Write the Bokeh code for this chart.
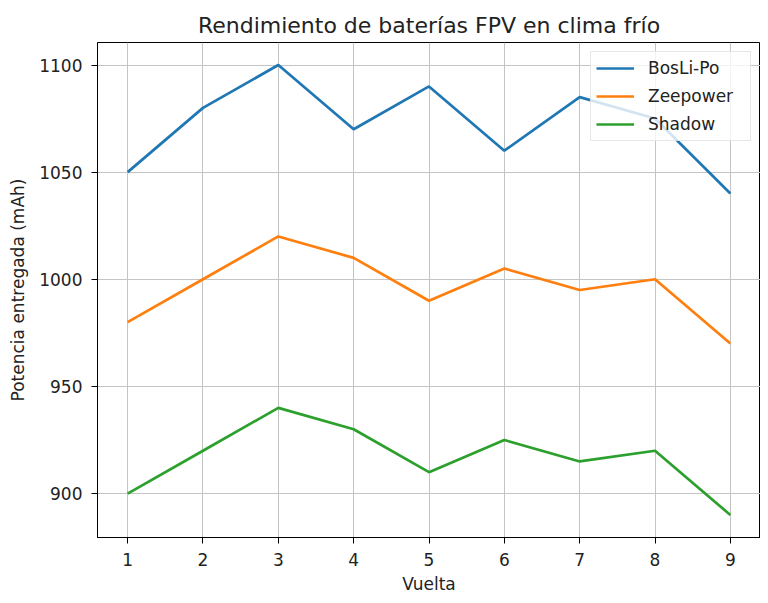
from bokeh.plotting import figure
from bokeh.models import Range1d, FixedTicker, Legend, LegendItem
from bokeh.embed import file_html
from bokeh.resources import INLINE

vueltas = [1, 2, 3, 4, 5, 6, 7, 8, 9]
boslipo = [1050, 1080, 1100, 1070, 1090, 1060, 1085, 1075, 1040]
zeepower = [980, 1000, 1020, 1010, 990, 1005, 995, 1000, 970]
shadow = [900, 920, 940, 930, 910, 925, 915, 920, 890]
names = ["BosLi-Po", "Zeepower", "Shadow"]
colors = ["#1f77b4", "#ff7f0e", "#2ca02c"]
y_ticks = [900, 950, 1000, 1050, 1100]

FONT = "DejaVu Sans"

p = figure(frame_width=663, frame_height=495, output_backend="svg", toolbar_location=None,
           x_range=Range1d(0.6, 9.4), y_range=Range1d(879.5, 1110.5),
           min_border_left=97, min_border_right=0, min_border_top=42, min_border_bottom=50)

p.title.text = "Rendimiento de baterías FPV en clima frío"
p.title.align = "center"
p.title.text_font = FONT
p.title.text_font_size = "22px"
p.title.text_font_style = "normal"
p.title.text_color = "#222222"
p.title.standoff = 10

renderers = []
for ys, c in zip([boslipo, zeepower, shadow], colors):
    r = p.line(vueltas, ys, line_color=c, line_width=2.7)
    renderers.append(r)

p.xaxis.ticker = FixedTicker(ticks=vueltas)
p.yaxis.ticker = FixedTicker(ticks=y_ticks)
p.xaxis.axis_label = "Vuelta"
p.yaxis.axis_label = "Potencia entregada (mAh)"
for ax in (p.xaxis, p.yaxis):
    ax.axis_label_text_font = FONT
    ax.axis_label_text_font_size = "17px"
    ax.axis_label_text_font_style = "normal"
    ax.axis_label_text_color = "#222222"
    ax.major_label_text_font = FONT
    ax.major_label_text_font_size = "17px"
    ax.major_label_text_color = "#222222"
    ax.major_tick_out = 6
    ax.major_tick_in = 0
    ax.minor_tick_out = 0
    ax.minor_tick_in = 0
    ax.axis_line_color = "black"
    ax.major_tick_line_color = "black"
    ax.major_label_standoff = 9
p.yaxis.axis_label_standoff = 8
p.xaxis.axis_label_standoff = 5

p.grid.grid_line_color = "#c4c4c4"
p.grid.grid_line_width = 1
p.outline_line_color = "black"
p.outline_line_width = 1

legend = Legend(items=[LegendItem(label=n, renderers=[r]) for n, r in zip(names, renderers)],
                location="top_right")
legend.label_text_font = FONT
legend.label_text_font_size = "17px"
legend.label_text_color = "#222222"
legend.glyph_width = 38
legend.glyph_height = 22
legend.label_height = 22
legend.label_width = 97
legend.label_standoff = 14
legend.spacing = 6
legend.padding = 5
legend.margin = 9
legend.background_fill_alpha = 0.8
legend.border_line_color = "#d0d0d0"
legend.border_line_width = 1
p.add_layout(legend)

open("out.html", "w").write(file_html(p, INLINE))
